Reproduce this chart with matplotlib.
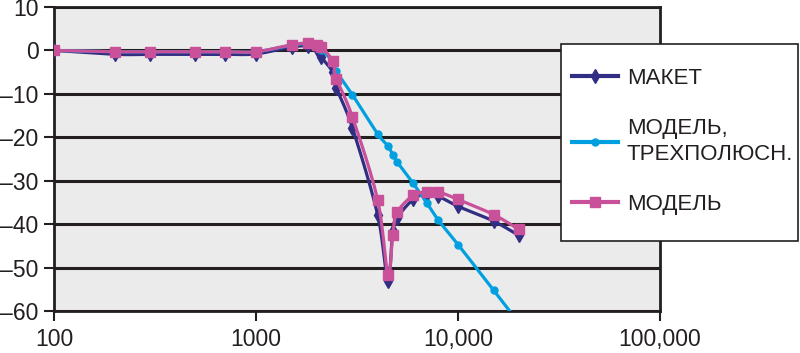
import matplotlib.pyplot as plt
from matplotlib.patches import Rectangle
import numpy as np

plt.rcParams['font.family'] = ['Liberation Sans', 'DejaVu Sans']

# data
freq = [100, 200, 300, 500, 700, 1000, 1500, 1800, 2000, 2100, 2400, 2500,
        3000, 4000, 4500, 4750, 5000, 6000, 7000, 8000, 10000, 15000, 20000]
maket = [0, -0.9, -0.9, -0.9, -0.9, -0.8, 0.8, 1.0, 0.3, -1.5, -5.0, -8.6,
         -17.8, -37.8, -53.0, -41.5, -38.5, -34.3, -33.0, -33.6, -35.9, -39.3, -42.6]
model3 = [0, -0.3, -0.3, -0.3, -0.3, -0.3, 1.2, 1.5, 1.0, 0.2, -2.5, -4.8,
          -10.2, -19.2, -22.0, -24.0, -25.7, -30.6, -35.1, -39.1, -44.7, -55.2, -62.7]
model = [0, -0.3, -0.3, -0.3, -0.3, -0.3, 1.3, 1.7, 1.3, 0.9, -2.5, -6.5,
         -15.3, -34.4, -51.7, -42.5, -37.3, -33.4, -32.6, -32.6, -34.3, -37.8, -41.2]
labels = ["МАКЕТ", "МОДЕЛЬ,\nТРЕХПОЛЮСН.", "МОДЕЛЬ"]

x_ticks = [100, 1000, 10000, 100000]
x_labels = ["100", "1000", "10,000", "100,000"]
y_ticks = [10, 0, -10, -20, -30, -40, -50, -60]


def smooth(x, y, n=12):
    # Catmull-Rom curve through the points (log x), like Excel "smoothed line"
    lx = np.log10(x)
    y = np.asarray(y, dtype=float)
    px = np.concatenate([[2*lx[0] - lx[1]], lx, [2*lx[-1] - lx[-2]]])
    py = np.concatenate([[2*y[0] - y[1]], y, [2*y[-1] - y[-2]]])
    xs, ys = [], []
    t = np.linspace(0, 1, n, endpoint=False)
    for i in range(1, len(px) - 2):
        for arr, out in ((px, xs), (py, ys)):
            p0, p1, p2, p3 = arr[i-1], arr[i], arr[i+1], arr[i+2]
            out.extend(0.5*((2*p1) + (-p0 + p2)*t + (2*p0 - 5*p1 + 4*p2 - p3)*t**2
                            + (-p0 + 3*p1 - 3*p2 + p3)*t**3))
    xs.append(lx[-1])
    ys.append(y[-1])
    return 10**np.array(xs), np.array(ys)


fig = plt.figure(figsize=(8, 3.53), dpi=100)
ax = fig.add_axes([54/800, 1 - 311/353, 606/800, 304/353])
ax.set_facecolor("#EBEBEB")

dark = "#312E84"
cyan = "#00A0E0"
pink = "#C9519A"

series = [(maket, "d", dark, 7), (model3, "o", cyan, 5), (model, "s", pink, 6.5)]
for k, (vals, mk, col, ms) in enumerate(series):
    sx, sy = smooth(freq, vals)
    ax.plot(sx, sy, color=col, linewidth=2.3, zorder=3 + k)
    ax.plot(freq, vals, linestyle="none", marker=mk, color=col, markersize=ms,
            zorder=3 + k)
    ax.plot([], [], marker=mk, color=col, linewidth=3, markersize=ms,
            label=labels[k])

# Ox
ax.set_xscale("log")
ax.set_xlim(100, 100000)
ax.set_xticks(x_ticks)
ax.set_xticklabels(x_labels)
ax.minorticks_off()

# Oy
ax.set_ylim(-60, 10)
ax.set_yticks(y_ticks)
ax.set_yticklabels([str(y) if y >= 0 else "\u2013" + str(-y) for y in y_ticks])

ax.tick_params(axis="both", direction="out", length=7, width=1.5,
               color="#231F20", labelsize=16.5, labelcolor="#231F20")
ax.tick_params(axis="y", pad=4)
ax.tick_params(axis="x", pad=5)

# grid
ax.grid(True, axis="y", color="#231F20", linewidth=2.2, zorder=1)
ax.set_axisbelow(True)
for s in ax.spines.values():
    s.set_color("#231F20")
    s.set_linewidth(2.0)

# legend box + entries
box = Rectangle((561/800, 1 - 241/353), 237/800, 197/353,
                transform=fig.transFigure, facecolor="white",
                edgecolor="#231F20", linewidth=1.2, zorder=4)
fig.patches.append(box)
leg = fig.legend(loc="upper left", bbox_to_anchor=(572/800, 1 - 68/353),
                 fontsize=16, frameon=False, borderpad=0, borderaxespad=0,
                 handlelength=2.07, handletextpad=0.4, labelspacing=1.3)
leg.set_zorder(5)
for t in leg.get_texts():
    t.set_color("#231F20")
    t.set_linespacing(1.3)

fig.savefig("out.png", dpi=100)
